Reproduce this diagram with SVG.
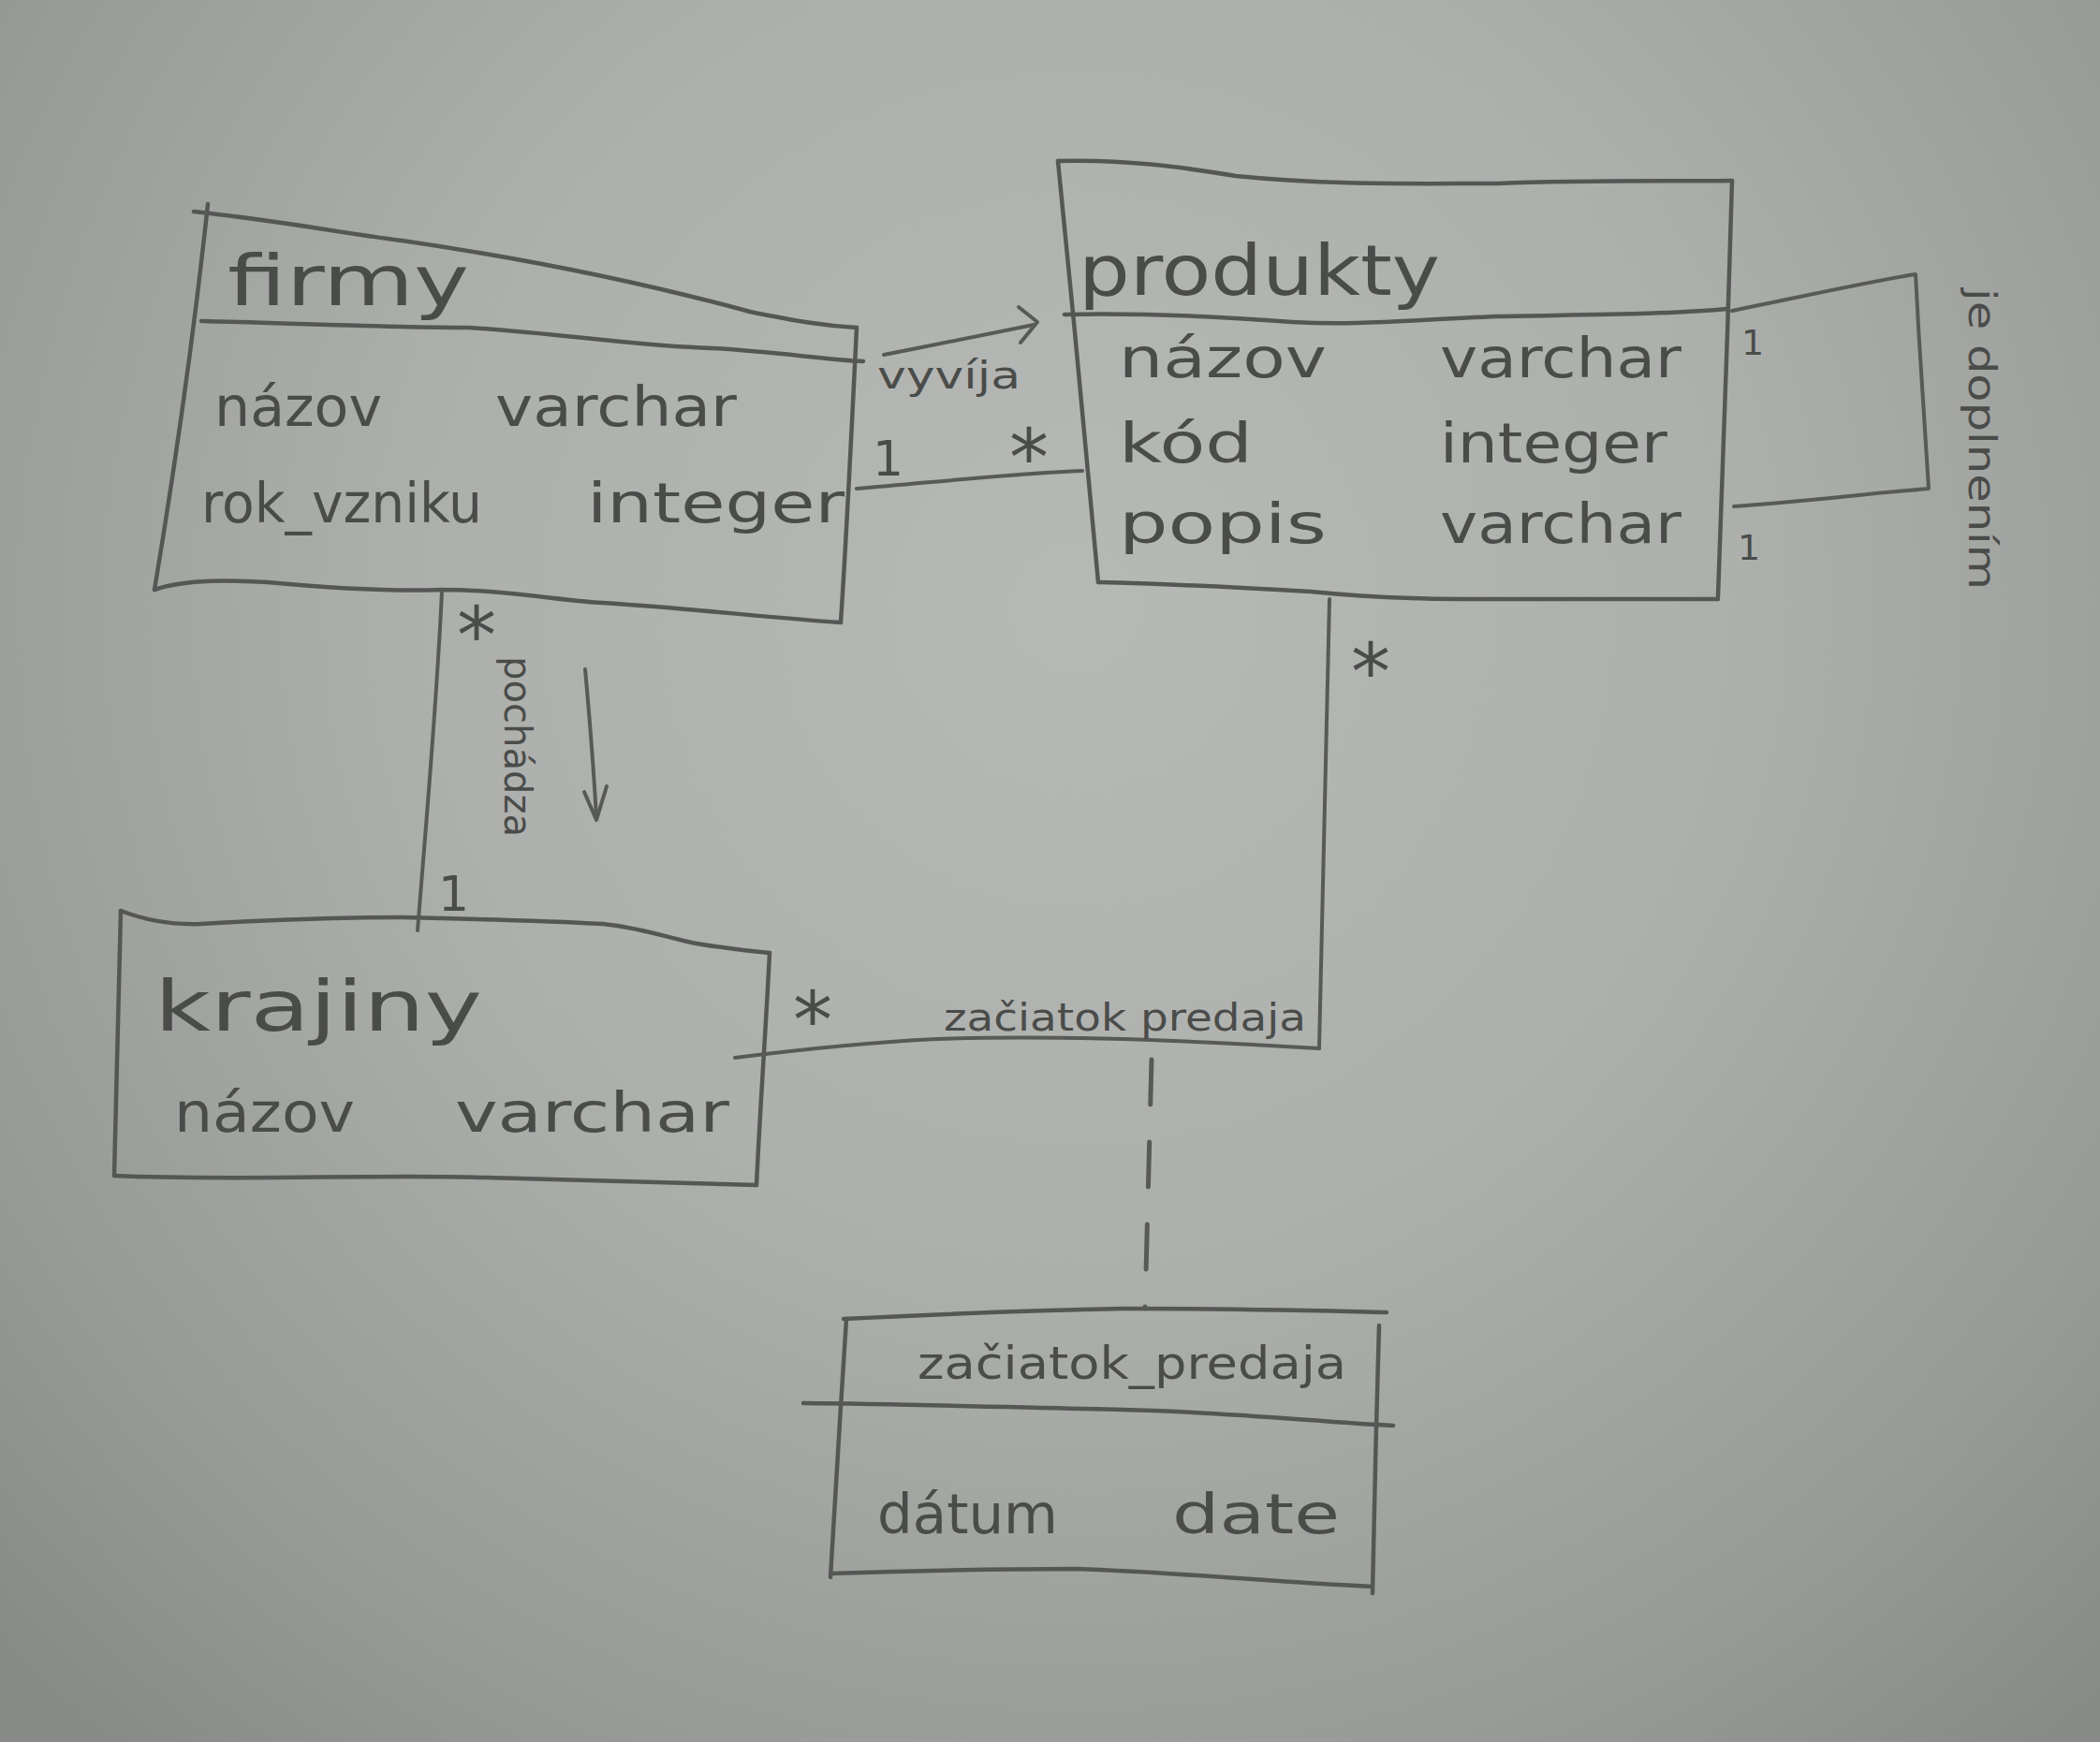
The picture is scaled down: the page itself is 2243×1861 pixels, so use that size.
<svg xmlns="http://www.w3.org/2000/svg" width="2243" height="1861" viewBox="0 0 2243 1861">
  <defs>
    <radialGradient id="paper" cx="1150" cy="650" r="1600" gradientUnits="userSpaceOnUse">
      <stop offset="0" stop-color="#b7b9b6"/>
      <stop offset="0.45" stop-color="#adafac"/>
      <stop offset="0.8" stop-color="#989a97"/>
      <stop offset="1" stop-color="#888a87"/>
    </radialGradient>
    <style>
      .box { fill: none; stroke: #555755; stroke-width: 4.5; stroke-linecap: round; stroke-linejoin: round; }
      .edge { fill: none; stroke: #585a58; stroke-width: 4; stroke-linecap: round; stroke-linejoin: round; }
      .dash { fill: none; stroke: #585a58; stroke-width: 5; stroke-linecap: round; stroke-dasharray: 48 40; }
      .t { font-family: "DejaVu Sans", "Liberation Sans", sans-serif; fill: #4a4c4a; }
      .title { font-size: 74px; }
      .attr { font-size: 58px; }
      .lbl { font-size: 40px; }
      .mult { font-size: 52px; }
      .star { font-size: 84px; }
    </style>
  </defs>

  <!-- paper -->
  <rect x="0" y="0" width="2243" height="1861" fill="url(#paper)"/>

  <!-- class: firmy -->
  <g id="firmy">
    <path class="box" d="M207,226 C300,236 360,248 429,257 C560,276 680,300 801,333 C850,343 880,348 915,350"/>
    <path class="box" d="M222,218 C210,330 190,480 165,630"/>
    <path class="box" d="M915,350 C910,450 905,560 898,665"/>
    <path class="box" d="M165,630 C200,618 250,620 286,622 C350,628 420,632 472,630 C540,630 600,642 644,644 C740,650 820,660 898,665"/>
    <path class="box" d="M215,343 C300,345 420,350 500,350 C600,356 680,370 760,372 C830,376 880,384 922,386"/>
    <text class="t title" x="243" y="326" textLength="258" lengthAdjust="spacingAndGlyphs">firmy</text>
    <text class="t attr" x="229" y="455" textLength="179" lengthAdjust="spacingAndGlyphs">názov</text>
    <text class="t attr" x="529" y="455" textLength="258" lengthAdjust="spacingAndGlyphs">varchar</text>
    <text class="t attr" x="215" y="558" textLength="300" lengthAdjust="spacingAndGlyphs">rok_vzniku</text>
    <text class="t attr" x="627" y="558" textLength="275" lengthAdjust="spacingAndGlyphs">integer</text>
  </g>

  <!-- class: produkty -->
  <g id="produkty">
    <path class="box" d="M1130,172 C1200,170 1260,178 1320,188 C1420,198 1500,196 1600,196 C1700,192 1780,194 1850,193"/>
    <path class="box" d="M1130,172 C1145,320 1160,480 1173,622"/>
    <path class="box" d="M1850,193 C1846,340 1840,500 1835,637"/>
    <path class="box" d="M1173,622 C1260,624 1330,628 1400,632 C1480,640 1540,640 1600,640 C1700,640 1780,640 1835,640"/>
    <path class="box" d="M1137,336 C1220,334 1300,338 1380,344 C1450,348 1500,342 1600,338 C1700,336 1780,336 1845,330"/>
    <text class="t title" x="1152" y="315" textLength="386" lengthAdjust="spacingAndGlyphs">produkty</text>
    <text class="t attr" x="1195" y="403" textLength="222" lengthAdjust="spacingAndGlyphs">názov</text>
    <text class="t attr" x="1538" y="403" textLength="258" lengthAdjust="spacingAndGlyphs">varchar</text>
    <text class="t attr" x="1195" y="494" textLength="143" lengthAdjust="spacingAndGlyphs">kód</text>
    <text class="t attr" x="1538" y="494" textLength="243" lengthAdjust="spacingAndGlyphs">integer</text>
    <text class="t attr" x="1195" y="580" textLength="222" lengthAdjust="spacingAndGlyphs">popis</text>
    <text class="t attr" x="1538" y="580" textLength="258" lengthAdjust="spacingAndGlyphs">varchar</text>
  </g>

  <!-- class: krajiny -->
  <g id="krajiny">
    <path class="box" d="M129,973 C160,985 190,988 215,987 C300,982 360,980 429,980 C520,982 590,984 644,987 C690,992 720,1004 744,1008 C780,1014 800,1016 822,1018"/>
    <path class="box" d="M129,973 C127,1070 124,1160 122,1256"/>
    <path class="box" d="M822,1018 C818,1100 812,1180 808,1266"/>
    <path class="box" d="M122,1256 C250,1262 400,1254 520,1258 C650,1262 730,1264 808,1266"/>
    <text class="t title" x="165" y="1101" textLength="350" lengthAdjust="spacingAndGlyphs">krajiny</text>
    <text class="t attr" x="186" y="1209" textLength="193" lengthAdjust="spacingAndGlyphs">názov</text>
    <text class="t attr" x="486" y="1209" textLength="293" lengthAdjust="spacingAndGlyphs">varchar</text>
  </g>

  <!-- association class: začiatok_predaja -->
  <g id="zaciatok_predaja">
    <path class="box" d="M901,1409 C1000,1404 1100,1400 1200,1398 C1320,1398 1400,1400 1481,1402"/>
    <path class="box" d="M904,1409 C898,1500 892,1600 887,1685"/>
    <path class="box" d="M1473,1416 C1470,1510 1468,1610 1466,1702"/>
    <path class="box" d="M887,1681 C980,1678 1060,1676 1150,1676 C1260,1680 1360,1690 1466,1695"/>
    <path class="box" d="M858,1499 C980,1500 1100,1504 1200,1506 C1300,1508 1400,1518 1488,1523"/>
    <text class="t lbl" x="980" y="1473" textLength="458" lengthAdjust="spacingAndGlyphs" style="font-size:48px">začiatok_predaja</text>
    <text class="t attr" x="937" y="1638" textLength="193" lengthAdjust="spacingAndGlyphs">dátum</text>
    <text class="t attr" x="1252" y="1638" textLength="179" lengthAdjust="spacingAndGlyphs">date</text>
  </g>

  <!-- associations -->
  <g id="connectors">
    <!-- firmy 1 - * produkty : vyvíja -->
    <path class="edge" d="M915,522 C1000,515 1080,506 1156,503"/>
    <path class="edge" d="M944,379 C1000,368 1060,356 1104,347"/>
    <path class="edge" d="M1088,328 L1108,344 L1090,366"/>
    <text class="t lbl" x="937" y="415" textLength="153" lengthAdjust="spacingAndGlyphs">vyvíja</text>
    <text class="t mult" x="932" y="508">1</text>
    <text class="t star" x="1078" y="518">*</text>

    <!-- firmy * - 1 krajiny : pochádza -->
    <path class="edge" d="M472,632 C466,760 455,880 446,994"/>
    <path class="edge" d="M625,715 C630,770 634,820 637,873"/>
    <path class="edge" d="M624,846 L637,876 L648,840"/>
    <text class="t lbl" transform="translate(539,701) rotate(90)" x="0" y="0" textLength="193" lengthAdjust="spacingAndGlyphs">pochádza</text>
    <text class="t star" x="488" y="708">*</text>
    <text class="t mult" x="468" y="973">1</text>

    <!-- krajiny * - * produkty : začiatok predaja -->
    <path class="edge" d="M785,1130 C880,1118 960,1112 1000,1110 C1120,1106 1250,1110 1409,1120"/>
    <path class="edge" d="M1420,640 C1416,800 1412,960 1409,1120"/>
    <text class="t lbl" x="1008" y="1101" textLength="387" lengthAdjust="spacingAndGlyphs">začiatok predaja</text>
    <text class="t star" x="847" y="1119">*</text>
    <text class="t star" x="1443" y="747">*</text>
    <path class="dash" d="M1230,1132 L1223,1398"/>

    <!-- produkty 1 - 1 produkty : je doplnením -->
    <path class="edge" d="M1850,332 C1920,318 1990,302 2046,293 C2050,370 2055,450 2060,522 C1990,528 1920,536 1852,541"/>
    <text class="t mult" x="1860" y="379" style="font-size:38px">1</text>
    <text class="t mult" x="1856" y="598" style="font-size:38px">1</text>
    <text class="t lbl" transform="translate(2103,308) rotate(90)" x="0" y="0" textLength="322" lengthAdjust="spacingAndGlyphs">je doplnením</text>
  </g>
</svg>
